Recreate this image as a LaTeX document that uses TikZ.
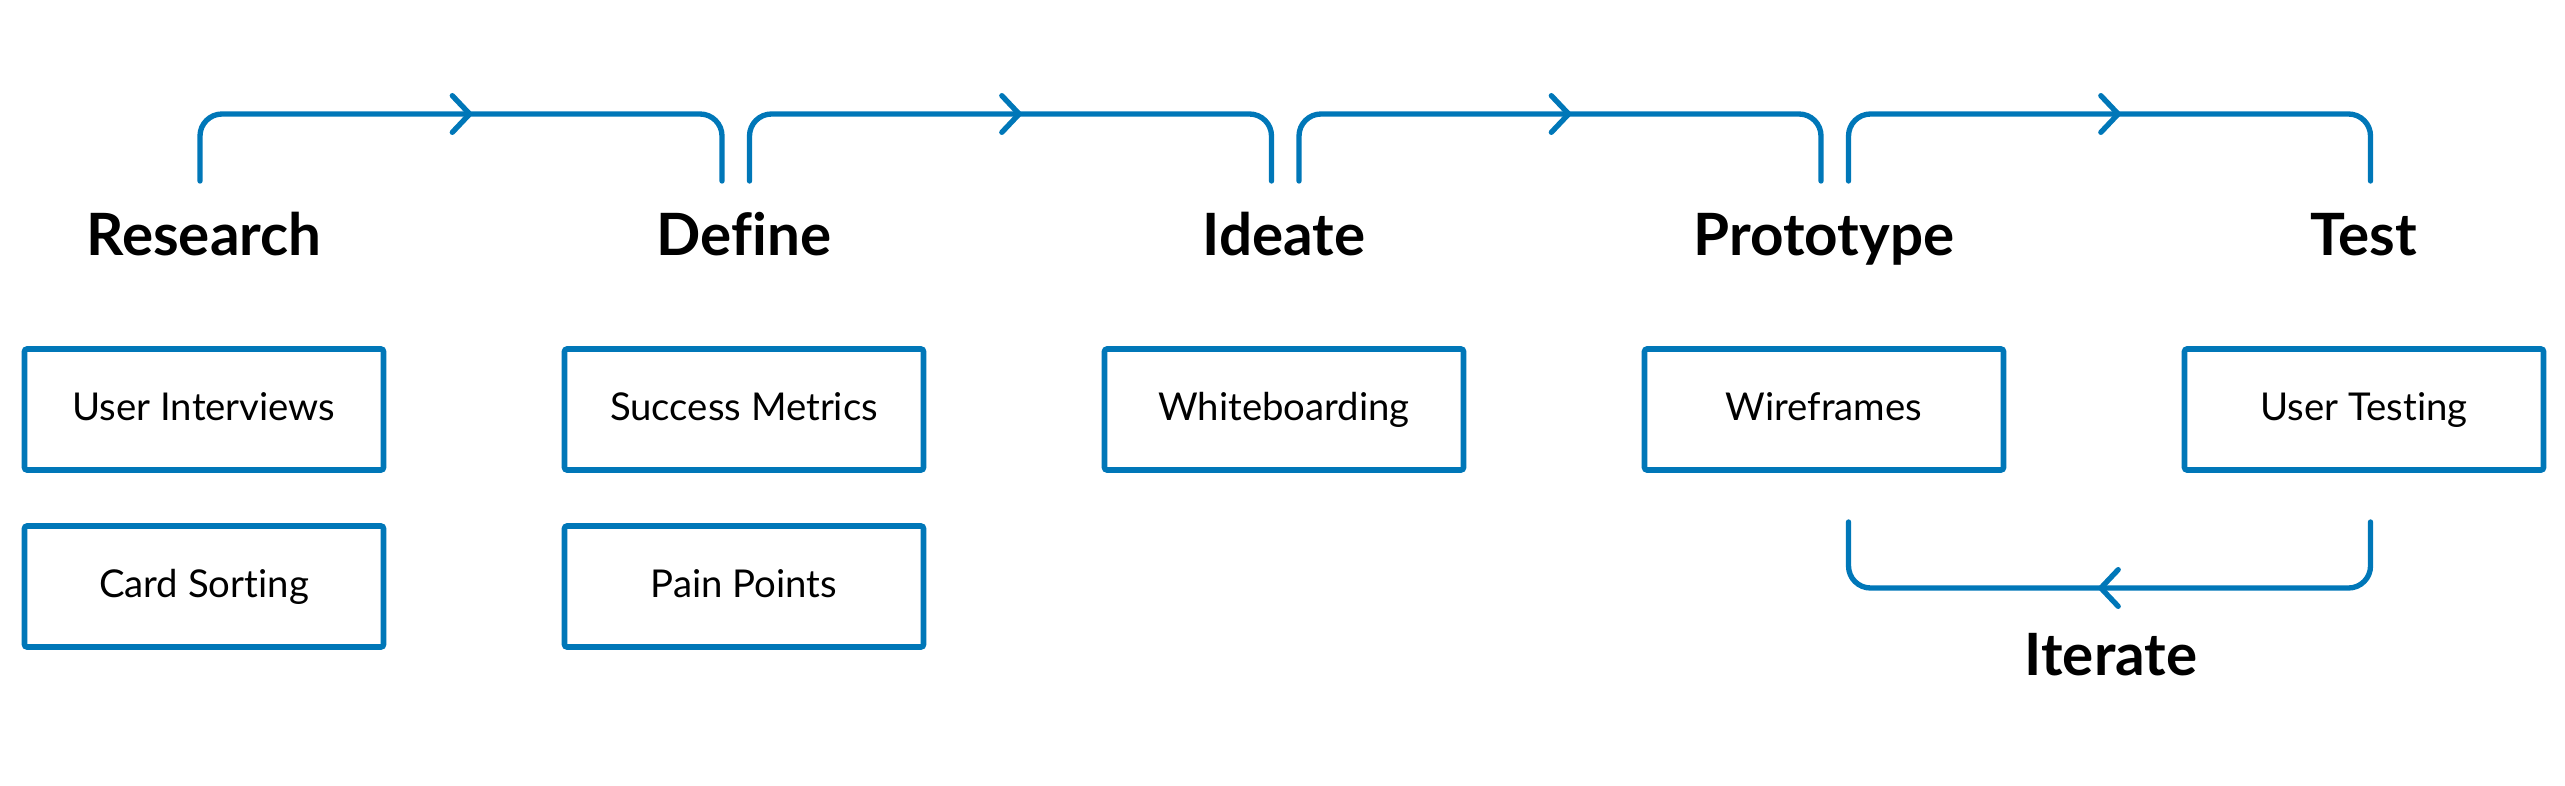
\documentclass[tikz,border=0pt]{standalone}
\usepackage{fontspec}
\setmainfont{Lato}[Ligatures=NoCommon]
\usetikzlibrary{decorations.markings}
\definecolor{flowblue}{RGB}{0,119,184}
\tikzstyle{phase}=[
	font=\fontsize{17.5}{19}\selectfont\bfseries,
	inner sep=0pt,
	anchor=base
]
\tikzstyle{task}=[
	draw=flowblue,
	line width=1.7pt,
	rounded corners=0.8pt,
	minimum width=107.7pt,
	minimum height=36.3pt,
	inner sep=0pt,
	font=\fontsize{11.5}{13}\selectfont,
	text height=8.1pt,
	text depth=1.5pt
]
\tikzstyle{flow}=[
	draw=flowblue,
	line width=1.6pt,
	line cap=round,
	rounded corners=6.6pt,
	postaction={decorate},
	decoration={markings, mark=at position 0.5 with {\draw[flowblue, line width=1.6pt, line cap=round, line join=round, sharp corners] (-2.6pt,5.5pt) -- (2.6pt,0pt) -- (-2.6pt,-5.5pt);}}
]

\begin{document}
\begin{tikzpicture}[x=0.3pt, y=-0.3pt]
\useasboundingbox (0,0) rectangle (2565,786);

% phases
\foreach \x/\n/\t in {204/research/Research, 744/define/Define, 1284/ideate/Ideate, 1824/prototype/Prototype, 2364/test/Test}{
    \node[phase] at (\x, 255) (\n) {\t};
}

% tasks
\foreach \x/\y/\n/\t in {204/409.5/interviews/User Interviews, 204/586.5/sorting/Card Sorting,
    744/409.5/metrics/Success Metrics, 744/586.5/pain/Pain Points,
    1284/409.5/whiteboarding/Whiteboarding, 1824/409.5/wireframes/Wireframes,
    2364/409.5/testing/User Testing}{
    \node[task] at (\x, \y) (\n) {\t};
}

% forward brackets
\foreach \i/\x in {1/200, 2/749.5, 3/1299, 4/1848.5}{
    \coordinate (s\i) at (\x, 181);
    \coordinate (e\i) at (\x+522, 181);
    \draw[flow] (s\i) -- ++(0,-67) -| (e\i);
}

% iterate loop
\node[phase] at (2111, 675) (iterate) {Iterate};
\coordinate (it1) at (2370.5, 522);
\coordinate (it2) at (1848.5, 522);
\draw[flow] (it1) -- ++(0,66) -| (it2);

\end{tikzpicture}
\end{document}
